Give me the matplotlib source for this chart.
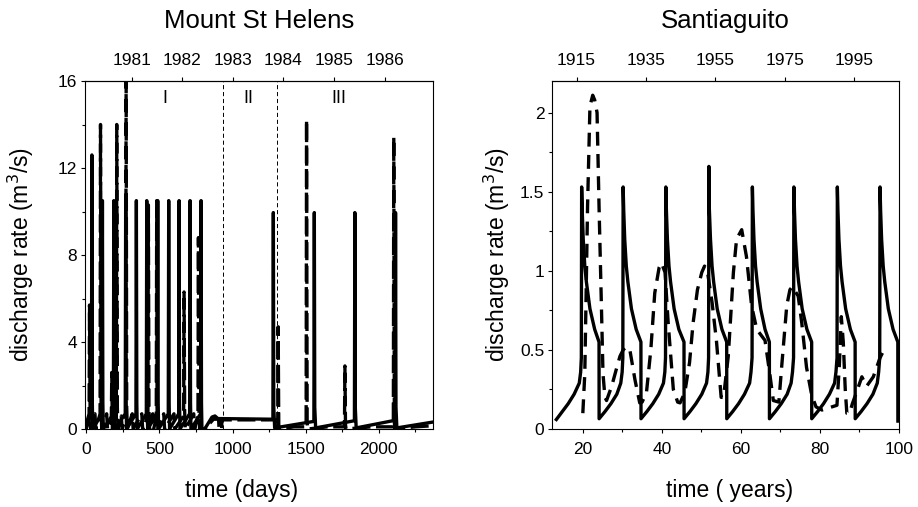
import numpy as np
import matplotlib
matplotlib.use("Agg")
import matplotlib.pyplot as plt
from matplotlib.ticker import MultipleLocator

plt.rcParams['font.family'] = ['Liberation Sans', 'DejaVu Sans']
plt.rcParams['lines.scale_dashes'] = False

# ---- Mount St Helens (days) ----
msh_model_t = [0, 36, 39, 42, 45,
               108, 111, 114, 117,
               186, 189, 192, 195,
               267, 270, 273, 276,
               340, 343, 346, 349,
               411, 414, 417, 420,
               486, 489, 492, 495,
               561, 564, 567, 570,
               632, 635, 638, 641,
               707, 710, 713, 716,
               782, 785, 788, 791,
               810, 860, 880, 900,
               1276, 1279, 1282, 1288,
               1556, 1559, 1562, 1568,
               1833, 1836, 1839, 1845,
               2111, 2114, 2117, 2123,
               2370]
msh_model_q = [0.0, 0.7, 12.6, 1.2, 0.0,
               0.7, 10.5, 1.2, 0.0,
               0.7, 10.5, 1.2, 0.0,
               0.7, 10.5, 1.2, 0.0,
               0.7, 10.5, 1.2, 0.0,
               0.7, 10.5, 1.2, 0.0,
               0.7, 10.5, 1.2, 0.0,
               0.7, 10.5, 1.2, 0.0,
               0.7, 10.5, 1.2, 0.0,
               0.7, 10.5, 1.2, 0.0,
               0.7, 10.5, 1.2, 0.0,
               0.0, 0.55, 0.6, 0.48,
               0.45, 9.95, 1.0, 0.05,
               0.35, 9.95, 1.0, 0.05,
               0.38, 9.95, 1.0, 0.05,
               0.4, 9.95, 1.0, 0.05,
               0.32]

msh_obs_t = [0, 20, 23, 27, 31, 60, 66, 95, 98, 102, 106, 140, 146,
             172, 175, 179, 206, 209, 213, 217, 240, 246, 270, 273, 277, 281,
             315, 321, 380, 386, 422, 425, 429, 433, 455, 461, 479, 482, 486, 490,
             530, 536, 600, 606, 666, 669, 673, 677, 735, 741, 764, 767, 771, 775,
             810, 870, 905, 908, 925, 928, 1300, 1306, 1309, 1312, 1316, 1320,
             1420, 1503, 1506, 1510, 1514, 1650, 1765, 1768, 1772, 1776,
             1950, 2099, 2102, 2106, 2110, 2250, 2370]
msh_obs_q = [0.2, 0.7, 5.7, 0.6, 0.0, 0.7, 0.0, 0.7, 14.0, 1.0, 0.0, 0.7, 0.0,
             0.5, 2.6, 0.0, 0.5, 14.0, 1.0, 0.0, 0.6, 0.0, 0.5, 16.5, 1.0, 0.0,
             0.7, 0.0, 0.7, 0.0, 0.6, 10.3, 1.0, 0.0, 0.7, 0.0, 0.5, 10.5, 1.0, 0.0,
             0.7, 0.0, 0.7, 0.0, 0.6, 6.3, 0.8, 0.0, 0.7, 0.0, 0.6, 8.8, 0.8, 0.0,
             0.0, 0.45, 0.45, 0.0, 0.0, 0.42, 0.42, 0.0, 0.2, 4.7, 0.2, 0.0,
             0.1, 0.1, 14.2, 0.3, 0.0, 0.1, 0.1, 2.9, 0.2, 0.0,
             0.1, 0.1, 13.4, 0.3, 0.0, 0.1, 0.15]

msh_phase_bounds = [935, 1304]
msh_phase_labels = ['I', 'II', 'III']
msh_phase_pos = [540, 1106, 1727]
msh_year_pos = [314, 655, 1003, 1345, 1693, 2041]
msh_year_labels = ['1981', '1982', '1983', '1984', '1985', '1986']

# ---- Santiaguito (years) ----
sg_model_t = [13.3, 14.8, 16.3, 17.8, 19.1, 19.45, 19.62, 19.7,
              19.85, 20.1, 20.5, 20.9, 21.8, 23.0, 24.1, 24.12,
              25.6, 27.1, 28.6, 29.6, 29.95, 30.12, 30.2,
              30.35, 30.6, 31.0, 31.4, 32.3, 33.5, 34.7, 34.72,
              36.2, 37.7, 39.2, 40.4, 40.75, 40.92, 41.0,
              41.15, 41.4, 41.8, 42.2, 43.1, 44.3, 45.6, 45.62,
              47.1, 48.6, 50.1, 51.3, 51.65, 51.82, 51.9,
              52.0, 52.3, 52.7, 53.1, 54.0, 55.2, 56.4, 56.42,
              57.9, 59.4, 60.9, 62.2, 62.55, 62.82, 62.9,
              63.05, 63.3, 63.7, 64.1, 65.0, 66.1, 67.2, 67.22,
              68.7, 70.2, 71.7, 72.7, 73.05, 73.32, 73.4,
              73.55, 73.8, 74.2, 74.6, 75.5, 76.7, 77.9, 77.92,
              79.4, 80.9, 82.4, 83.7, 84.05, 84.32, 84.4,
              84.55, 84.8, 85.2, 85.6, 86.5, 87.7, 88.9, 88.92,
              90.4, 91.9, 93.4, 94.5, 94.85, 95.12, 95.2,
              95.35, 95.6, 96.0, 96.4, 97.3, 98.5, 99.7, 99.72]
sg_model_q = [0.06, 0.11, 0.16, 0.22, 0.29, 0.36, 0.45, 1.53,
              1.38, 1.2, 1.03, 0.93, 0.76, 0.63, 0.55, 0.065,
              0.11, 0.16, 0.22, 0.29, 0.36, 0.45, 1.53,
              1.38, 1.2, 1.03, 0.93, 0.76, 0.63, 0.55, 0.065,
              0.11, 0.16, 0.22, 0.29, 0.36, 0.45, 1.53,
              1.38, 1.2, 1.03, 0.93, 0.76, 0.63, 0.55, 0.065,
              0.11, 0.16, 0.22, 0.29, 0.36, 0.45, 1.66,
              1.4, 1.2, 1.03, 0.93, 0.76, 0.63, 0.55, 0.065,
              0.11, 0.16, 0.22, 0.29, 0.36, 0.45, 1.53,
              1.38, 1.2, 1.03, 0.93, 0.76, 0.63, 0.55, 0.065,
              0.11, 0.16, 0.22, 0.29, 0.36, 0.45, 1.53,
              1.38, 1.2, 1.03, 0.93, 0.76, 0.63, 0.55, 0.065,
              0.11, 0.16, 0.22, 0.29, 0.36, 0.45, 1.53,
              1.38, 1.2, 1.03, 0.93, 0.76, 0.63, 0.55, 0.065,
              0.11, 0.16, 0.22, 0.29, 0.36, 0.45, 1.53,
              1.38, 1.2, 1.03, 0.93, 0.76, 0.63, 0.55, 0.05]

sg_obs_t = [20.0, 20.5, 21.2, 21.8, 22.5, 23.0, 23.6, 24.1, 24.7, 25.1, 25.6, 26.0,
            27.3, 28.5, 29.4, 30.2, 31.0, 31.9, 33.2, 34.4, 35.0, 36.1, 37.2, 38.2,
            39.3, 39.9, 40.8, 41.6, 42.9, 44.0, 44.6, 45.8, 47.0, 47.9, 49.0, 50.1,
            50.8, 51.5, 52.7, 53.8, 55.0, 55.6, 56.8, 58.1, 58.9, 60.2, 61.4, 62.7,
            64.0, 66.1, 67.3, 68.2, 69.6, 70.3, 71.6, 72.4, 73.0, 74.5, 75.4, 76.6,
            77.9, 79.0, 80.5, 84.3, 84.9, 85.4, 85.9, 86.4, 86.8, 87.5, 88.2, 89.5,
            90.6, 91.2, 91.8, 93.5, 95.2, 96.2]
sg_obs_q = [0.1, 0.35, 1.41, 2.04, 2.11, 2.08, 2.0, 1.41, 0.78, 0.35, 0.2, 0.18,
            0.27, 0.38, 0.46, 0.5, 0.52, 0.5, 0.31, 0.165, 0.17, 0.23, 0.5, 0.86,
            1.02, 1.05, 0.99, 0.67, 0.25, 0.17, 0.165, 0.23, 0.42, 0.67, 0.88, 0.99,
            1.03, 1.0, 0.8, 0.56, 0.2, 0.2, 0.46, 0.99, 1.2, 1.26, 1.09, 0.78,
            0.63, 0.56, 0.35, 0.18, 0.17, 0.39, 0.78, 0.88, 0.9, 0.84, 0.67, 0.39,
            0.215, 0.14, 0.12, 0.15, 0.4, 0.71, 0.55, 0.25, 0.1, 0.1, 0.16, 0.25,
            0.33, 0.3, 0.27, 0.33, 0.45, 0.5]

sg_year_pos = [18.4, 36.0, 53.5, 71.1, 88.6]
sg_year_labels = ['1915', '1935', '1955', '1975', '1995']

W, H = 918, 507
fig = plt.figure(figsize=(W / 100, H / 100), dpi=100)
ax1 = fig.add_axes([85 / W, 1 - 429 / H, 348 / W, 348 / H])
ax2 = fig.add_axes([552 / W, 1 - 429 / H, 347 / W, 348 / H])

lw = 2.4
tsize = 12.5
for ax in (ax1, ax2):
    for s in ax.spines.values():
        s.set_linewidth(0.8)
    ax.tick_params(which='both', direction='out', width=0.8, labelsize=tsize)
    ax.tick_params(which='major', length=3)
    ax.tick_params(which='minor', length=2)
    ax.tick_params(axis='x', pad=6)
    ax.tick_params(axis='y', pad=2.5)

# left panel
ax1.plot(msh_model_t, msh_model_q, color='black', lw=lw)
ax1.plot(msh_obs_t, msh_obs_q, color='black', lw=lw, dashes=(13, 4))
for b in msh_phase_bounds:
    ax1.axvline(b, color='black', lw=0.7, dashes=(3, 2))
for lab, p in zip(msh_phase_labels, msh_phase_pos):
    ax1.text(p, 15.2, lab, ha='center', va='center', fontsize=13)
ax1.set_xlim(-8, 2370)
ax1.set_ylim(0, 16)
ax1.set_xticks([0, 500, 1000, 1500, 2000])
ax1.xaxis.set_minor_locator(MultipleLocator(250))
ax1.set_yticks([0, 4, 8, 12, 16])
ax1.yaxis.set_minor_locator(MultipleLocator(2))
ax1.set_xlabel('time (days)', fontsize=16.5)
ax1.xaxis.set_label_coords(0.45, -0.145)
ax1.set_ylabel('discharge rate (m$^3$/s)', fontsize=16.5)
ax1.yaxis.set_label_coords(-0.14, 0.5)
top1 = ax1.secondary_xaxis('top')
top1.set_xticks(msh_year_pos, msh_year_labels)
top1.tick_params(direction='out', length=3, width=0.8, labelsize=tsize, pad=6)
ax1.text(0.5, 1.152, 'Mount St Helens', transform=ax1.transAxes,
         ha='center', va='baseline', fontsize=18.5)

# right panel
ax2.plot(sg_model_t, sg_model_q, color='black', lw=lw)
ax2.plot(sg_obs_t, sg_obs_q, color='black', lw=lw, dashes=(10, 6))
ax2.set_xlim(12.2, 100)
ax2.set_ylim(0, 2.2)
ax2.set_xticks([20, 40, 60, 80, 100])
ax2.xaxis.set_minor_locator(MultipleLocator(10))
ax2.set_yticks([0, 0.5, 1, 1.5, 2], ['0', '0.5', '1', '1.5', '2'])
ax2.yaxis.set_minor_locator(MultipleLocator(0.25))
ax2.set_xlabel('time ( years)', fontsize=16.5)
ax2.xaxis.set_label_coords(0.513, -0.145)
ax2.set_ylabel('discharge rate (m$^3$/s)', fontsize=16.5)
ax2.yaxis.set_label_coords(-0.115, 0.5)
top2 = ax2.secondary_xaxis('top')
top2.set_xticks(sg_year_pos, sg_year_labels)
top2.tick_params(direction='out', length=3, width=0.8, labelsize=tsize, pad=6)
ax2.text(0.5, 1.152, 'Santiaguito', transform=ax2.transAxes,
         ha='center', va='baseline', fontsize=18.5)

fig.savefig('out.png', dpi=100)
